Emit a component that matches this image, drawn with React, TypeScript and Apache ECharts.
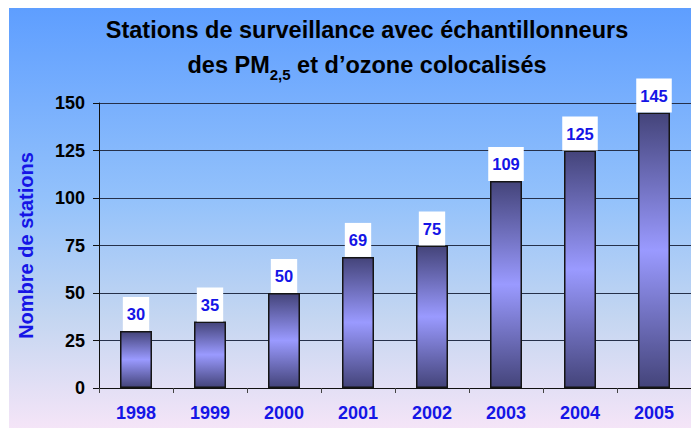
import React, { useEffect, useRef } from "react";
import * as echarts from "echarts";

const categories = ["1998", "1999", "2000", "2001", "2002", "2003", "2004", "2005"];
const values = [30, 35, 50, 69, 75, 109, 125, 145];
const yTicks = { min: 0, max: 150, interval: 25 };
const titleLine1 = "Stations de surveillance avec échantillonneurs";
const titleLine2 = "des PM{sub|2,5} et d’ozone colocalisés";
const yName = "Nombre de stations";

export default function App() {
  const ref = useRef<HTMLDivElement>(null);
  useEffect(() => {
    if (!ref.current) return;
    const chart = echarts.init(ref.current, null, { renderer: "svg" });
    const barGrad = new echarts.graphic.LinearGradient(0, 0, 0, 1, [
      { offset: 0, color: "#44447a" },
      { offset: 0.5, color: "#9a9aff" },
      { offset: 1, color: "#44447a" },
    ]);
    chart.setOption({
      animation: false,
      textStyle: { fontFamily: "Liberation Sans, Arial, sans-serif" },
      graphic: [
        {
          type: "rect",
          z: -10,
          silent: true,
          shape: { x: 9, y: 8, width: 690, height: 430 },
          style: {
            fill: new echarts.graphic.LinearGradient(0, 0, 0, 1, [
              { offset: 0, color: "#5e9eff" },
              { offset: 0.45, color: "#94c2fb" },
              { offset: 0.72, color: "#c4d6f1" },
              { offset: 1, color: "#f9e6f8" },
            ]),
          },
        },
      ],
      title: {
        text: titleLine1 + "\n" + titleLine2,
        left: 362,
        top: 7,
        textAlign: "center",
        textStyle: {
          fontSize: 23.5,
          fontWeight: "bold",
          color: "#000",
          lineHeight: 35,
          fontFamily: "Liberation Sans, Arial, sans-serif",
          rich: {
            sub: {
              fontSize: 15,
              fontWeight: "bold",
              color: "#000",
              verticalAlign: "bottom",
              lineHeight: 28,
              fontFamily: "Liberation Sans, Arial, sans-serif",
            },
          },
        },
      },
      grid: { left: 99, top: 103, width: 598.4, height: 285 },
      xAxis: {
        type: "category",
        data: categories,
        axisLine: { lineStyle: { color: "#111", width: 1 } },
        axisTick: { show: true, length: 5, lineStyle: { color: "#444" } },
        axisLabel: {
          color: "#1515e6",
          fontWeight: "bold",
          fontSize: 18,
          margin: 16,
        },
      },
      yAxis: {
        type: "value",
        min: yTicks.min,
        max: yTicks.max,
        interval: yTicks.interval,
        name: yName,
        nameLocation: "middle",
        nameRotate: 90,
        nameGap: 63,
        nameTextStyle: { color: "#1515e6", fontWeight: "bold", fontSize: 20 },
        axisLine: { show: true, lineStyle: { color: "#111", width: 1 } },
        axisTick: { show: true, length: 6, lineStyle: { color: "#111" } },
        axisLabel: { color: "#000", fontWeight: "bold", fontSize: 18, margin: 14 },
        splitLine: { lineStyle: { color: "#25304a", width: 1 } },
      },
      series: [
        {
          type: "bar",
          data: values,
          barWidth: 32,
          itemStyle: { color: barGrad, borderColor: "#151515", borderWidth: 1.5 },
          label: {
            show: true,
            position: "top",
            distance: 0,
            backgroundColor: "#fff",
            padding: [9, 4, 9, 4],
            color: "#1515e6",
            fontWeight: "bold",
            fontSize: 16.5,
            lineHeight: 16,
          },
        },
      ],
    });
    return () => chart.dispose();
  }, []);
  return (
    <div
      ref={ref}
      style={{ position: "fixed", left: 0, top: 0, width: 691, height: 428, background: "#fff" }}
    />
  );
}
